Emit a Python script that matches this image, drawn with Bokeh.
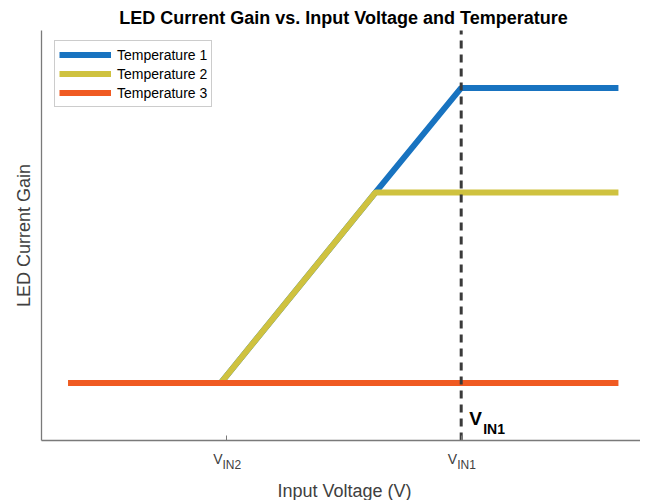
import math
from bokeh.plotting import figure
from bokeh.models import Range1d, FixedTicker, Label, Legend
from bokeh.embed import file_html
from bokeh.resources import INLINE

# ---- data (arbitrary units) ----
VIN2 = 2.0
VIN1 = 4.0
tick_positions = [VIN2, VIN1]
tick_main = ["V", "V"]
tick_sub = ["IN2", "IN1"]

x_t1 = [0.65, 1.95, 3.27, 4.0, 5.34]
y_t1 = [1.4, 1.4, 6.05, 8.6, 8.6]
x_t2 = [0.65, 1.95, 3.27, 5.34]
y_t2 = [1.4, 1.4, 6.05, 6.05]
x_t3 = [0.65, 5.34]
y_t3 = [1.4, 1.4]
series_names = ["Temperature 1", "Temperature 2", "Temperature 3"]
series_colors = ["#1873C0", "#CFC23F", "#F05A22"]

# axes box (data units)
x_axis_start = 0.4236
y_axis_start = 0.0
y_axis_end = 10.0

FONT = "Liberation Sans"
W, H = 640, 500

p = figure(width=W, height=H, output_backend="svg", toolbar_location=None,
           title=None, x_range=Range1d(0.0741, 5.528), y_range=Range1d(-1.4634, 10.732),
           min_border_left=0, min_border_top=0, min_border_bottom=0,
           min_border_right=0)
p.outline_line_color = None
p.xgrid.visible = False
p.ygrid.visible = False
p.background_fill_color = "white"
p.border_fill_color = "white"

# axes drawn at fixed positions inside the canvas
for ax in (p.xaxis[0], p.yaxis[0]):
    ax.axis_line_color = "#7a7a7a"
    ax.axis_line_width = 1.3
    ax.minor_tick_line_color = None
p.xaxis.fixed_location = y_axis_start
p.xaxis.bounds = (x_axis_start, 5.528)
p.xaxis.ticker = FixedTicker(ticks=tick_positions)
p.xaxis.major_tick_in = 5
p.xaxis.major_tick_out = 0
p.xaxis.major_tick_line_color = "#7a7a7a"
p.xaxis.major_label_overrides = {t: "" for t in tick_positions}
p.yaxis.fixed_location = x_axis_start
p.yaxis.bounds = (y_axis_start, y_axis_end)
p.yaxis.ticker = FixedTicker(ticks=[])
p.yaxis.major_tick_line_color = None

# lines
r1 = p.line(x_t1, y_t1, line_color=series_colors[0], line_width=6)
r2 = p.line(x_t2, y_t2, line_color=series_colors[1], line_width=6)
r3 = p.line(x_t3, y_t3, line_color=series_colors[2], line_width=6)

# dashed VIN1 marker
p.line([VIN1, VIN1], [y_axis_start, y_axis_end], line_color="#3a3a3a",
       line_width=3, line_dash="8 6")

legend = Legend(items=[(series_names[0], [r1]), (series_names[1], [r2]), (series_names[2], [r3])],
                location=(54, 393), margin=0, padding=4, spacing=0,
                label_height=19, glyph_height=19, glyph_width=52, label_standoff=6,
                label_text_font=FONT, label_text_font_size="14px", label_text_color="black",
                border_line_color="#9a9a9a", border_line_width=1,
                background_fill_color="white", background_fill_alpha=1.0)
p.add_layout(legend)

# title and axis labels (screen units)
p.add_layout(Label(x=343, y=483, x_units="screen", y_units="screen",
                   text="LED Current Gain vs. Input Voltage and Temperature",
                   text_font=FONT, text_font_size="18px", text_font_style="bold",
                   text_color="black", text_align="center", text_baseline="middle"))
p.add_layout(Label(x=344, y=10, x_units="screen", y_units="screen",
                   text="Input Voltage (V)", text_font=FONT, text_font_size="18px",
                   text_color="#404040", text_align="center", text_baseline="middle"))
p.add_layout(Label(x=23, y=265, x_units="screen", y_units="screen", angle=math.pi / 2,
                   text="LED Current Gain", text_font=FONT, text_font_size="18px",
                   text_color="#404040", text_align="center", text_baseline="middle"))

# tick labels with subscripts
for xpos, m, s in zip(tick_positions, tick_main, tick_sub):
    p.add_layout(Label(x=xpos, y=42, x_units="data", y_units="screen", x_offset=-4,
                       text=m, text_font=FONT, text_font_size="14px", text_color="#404040",
                       text_align="right", text_baseline="middle"))
    p.add_layout(Label(x=xpos, y=36, x_units="data", y_units="screen", x_offset=-4,
                       text=s, text_font=FONT, text_font_size="12px", text_color="#404040",
                       text_align="left", text_baseline="middle"))

# bold V_IN1 annotation
p.add_layout(Label(x=VIN1, y=82, x_units="data", y_units="screen", x_offset=8,
                   text="V", text_font=FONT, text_font_size="19px", text_font_style="bold",
                   text_color="black", text_align="left", text_baseline="middle"))
p.add_layout(Label(x=VIN1, y=72, x_units="data", y_units="screen", x_offset=22,
                   text="IN1", text_font=FONT, text_font_size="14px", text_font_style="bold",
                   text_color="black", text_align="left", text_baseline="middle"))

open("out.html", "w").write(file_html(p, INLINE))
